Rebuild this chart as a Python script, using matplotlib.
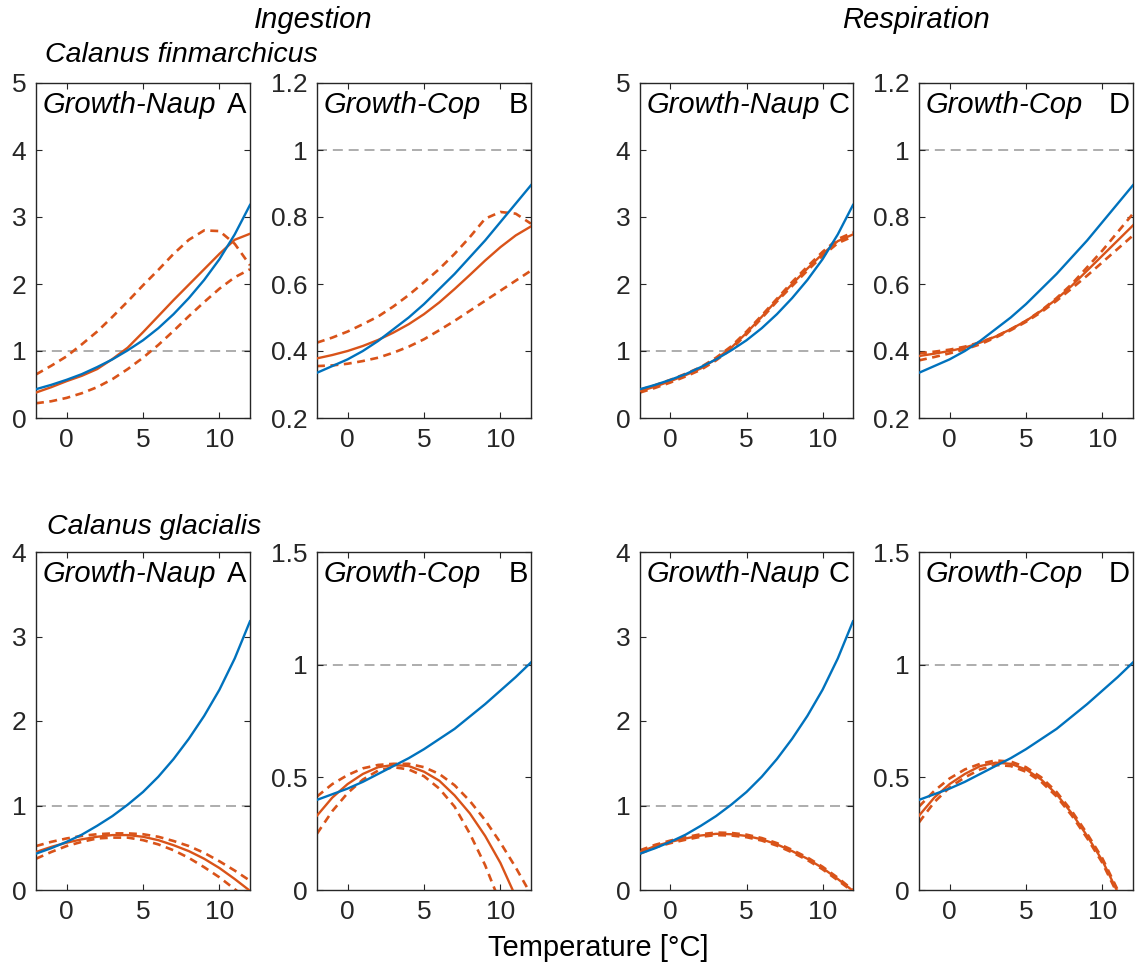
import numpy as np
from matplotlib import pyplot as plt

plt.rcParams['font.family'] = ['Liberation Sans', 'DejaVu Sans']

# ______________________________________________________________________________
# Data (temperature step of 1 degree)

temps = [-2, -1, 0, 1, 2, 3, 4, 5, 6, 7, 8, 9, 10, 11, 12]

# reference (blue) curves
naup_ref = [0.43, 0.495, 0.57, 0.655, 0.76, 0.875, 1.01, 1.16, 1.34, 1.55, 1.79, 2.06, 2.37, 2.74, 3.18]
cop_ref_fin = [0.335, 0.355, 0.375, 0.40, 0.43, 0.465, 0.50, 0.54, 0.585, 0.63, 0.68, 0.73, 0.785, 0.84, 0.895]
cop_ref_gla = [0.40, 0.425, 0.45, 0.48, 0.515, 0.55, 0.585, 0.625, 0.67, 0.715, 0.77, 0.825, 0.885, 0.945, 1.01]

# C. finmarchicus, ingestion
fin_ing_naup = [0.38, 0.46, 0.55, 0.63, 0.73, 0.88, 1.05, 1.28, 1.52, 1.76, 1.99, 2.22, 2.45, 2.66, 2.75]
fin_ing_naup_hi = [0.65, 0.78, 0.92, 1.10, 1.29, 1.51, 1.74, 1.98, 2.21, 2.45, 2.66, 2.80, 2.79, 2.60, 2.28]
fin_ing_naup_lo = [0.22, 0.25, 0.30, 0.37, 0.46, 0.58, 0.73, 0.90, 1.09, 1.30, 1.52, 1.73, 1.93, 2.10, 2.22]
fin_ing_cop = [0.378, 0.388, 0.40, 0.415, 0.433, 0.455, 0.48, 0.51, 0.545, 0.585, 0.627, 0.67, 0.71, 0.745, 0.772]
fin_ing_cop_hi = [0.425, 0.44, 0.458, 0.48, 0.503, 0.533, 0.567, 0.605, 0.645, 0.69, 0.74, 0.795, 0.815, 0.81, 0.78]
fin_ing_cop_lo = [0.355, 0.357, 0.362, 0.37, 0.38, 0.395, 0.413, 0.435, 0.462, 0.49, 0.52, 0.55, 0.58, 0.61, 0.64]

# C. finmarchicus, respiration
fin_res_naup = [0.40, 0.47, 0.55, 0.64, 0.74, 0.88, 1.05, 1.27, 1.51, 1.76, 2.00, 2.23, 2.45, 2.64, 2.74]
fin_res_naup_hi = [0.42, 0.49, 0.57, 0.66, 0.76, 0.90, 1.07, 1.29, 1.53, 1.78, 2.03, 2.26, 2.48, 2.67, 2.77]
fin_res_naup_lo = [0.38, 0.45, 0.53, 0.62, 0.72, 0.86, 1.03, 1.25, 1.49, 1.74, 1.97, 2.20, 2.42, 2.61, 2.71]
fin_res_cop = [0.385, 0.392, 0.40, 0.41, 0.425, 0.443, 0.465, 0.49, 0.52, 0.555, 0.595, 0.64, 0.685, 0.73, 0.775]
fin_res_cop_hi = [0.393, 0.398, 0.404, 0.413, 0.426, 0.443, 0.465, 0.49, 0.521, 0.558, 0.60, 0.65, 0.70, 0.755, 0.81]
fin_res_cop_lo = [0.372, 0.382, 0.393, 0.405, 0.42, 0.44, 0.462, 0.487, 0.516, 0.55, 0.587, 0.625, 0.665, 0.705, 0.745]

# C. glacialis, ingestion
gla_ing_naup = [0.45, 0.51, 0.56, 0.60, 0.63, 0.65, 0.65, 0.63, 0.59, 0.53, 0.46, 0.37, 0.26, 0.13, -0.01]
gla_ing_naup_hi = [0.52, 0.57, 0.61, 0.64, 0.66, 0.67, 0.67, 0.66, 0.63, 0.58, 0.52, 0.44, 0.34, 0.23, 0.11]
gla_ing_naup_lo = [0.37, 0.45, 0.52, 0.57, 0.61, 0.62, 0.62, 0.59, 0.54, 0.47, 0.38, 0.27, 0.15, 0.01, -0.13]
gla_ing_cop = [0.33, 0.41, 0.47, 0.515, 0.545, 0.555, 0.55, 0.525, 0.485, 0.42, 0.34, 0.24, 0.12, -0.03, -0.2]
gla_ing_cop_hi = [0.415, 0.47, 0.51, 0.54, 0.555, 0.56, 0.56, 0.545, 0.515, 0.465, 0.395, 0.31, 0.21, 0.10, -0.02]
gla_ing_cop_lo = [0.25, 0.35, 0.43, 0.49, 0.53, 0.545, 0.535, 0.505, 0.45, 0.37, 0.25, 0.11, -0.06, -0.25, -0.45]

# C. glacialis, respiration
gla_res_naup = [0.45, 0.52, 0.57, 0.61, 0.645, 0.665, 0.66, 0.64, 0.60, 0.54, 0.46, 0.37, 0.26, 0.13, -0.01]
gla_res_naup_hi = [0.47, 0.535, 0.585, 0.625, 0.66, 0.68, 0.675, 0.655, 0.615, 0.555, 0.475, 0.385, 0.275, 0.145, 0.0]
gla_res_naup_lo = [0.43, 0.505, 0.555, 0.595, 0.63, 0.65, 0.645, 0.625, 0.585, 0.525, 0.445, 0.355, 0.245, 0.115, -0.02]
gla_res_cop = [0.33, 0.41, 0.47, 0.515, 0.55, 0.565, 0.56, 0.535, 0.49, 0.425, 0.34, 0.24, 0.13, -0.01, -0.17]
gla_res_cop_hi = [0.37, 0.44, 0.495, 0.535, 0.56, 0.575, 0.57, 0.545, 0.50, 0.435, 0.35, 0.25, 0.14, 0.0, -0.16]
gla_res_cop_lo = [0.30, 0.39, 0.455, 0.50, 0.535, 0.555, 0.55, 0.525, 0.48, 0.415, 0.33, 0.23, 0.12, -0.02, -0.18]

blue = '#0072BD'
orange = '#D95319'
axis_col = '#262626'

# ______________________________________________________________________________
# Layout (pixel boxes)

W, H = 1137, 972
cols = [(36, 250), (317, 531), (640, 853), (919, 1133)]
rows = [(83, 418), (552, 890)]

panels = [
    # row, col, ref, mid, hi, lo, ylim, yticks, name, letter
    (0, 0, naup_ref, fin_ing_naup, fin_ing_naup_hi, fin_ing_naup_lo, (0, 5), [0, 1, 2, 3, 4, 5], 'Growth-Naup', 'A'),
    (0, 1, cop_ref_fin, fin_ing_cop, fin_ing_cop_hi, fin_ing_cop_lo, (0.2, 1.2), [0.2, 0.4, 0.6, 0.8, 1, 1.2], 'Growth-Cop', 'B'),
    (0, 2, naup_ref, fin_res_naup, fin_res_naup_hi, fin_res_naup_lo, (0, 5), [0, 1, 2, 3, 4, 5], 'Growth-Naup', 'C'),
    (0, 3, cop_ref_fin, fin_res_cop, fin_res_cop_hi, fin_res_cop_lo, (0.2, 1.2), [0.2, 0.4, 0.6, 0.8, 1, 1.2], 'Growth-Cop', 'D'),
    (1, 0, naup_ref, gla_ing_naup, gla_ing_naup_hi, gla_ing_naup_lo, (0, 4), [0, 1, 2, 3, 4], 'Growth-Naup', 'A'),
    (1, 1, cop_ref_gla, gla_ing_cop, gla_ing_cop_hi, gla_ing_cop_lo, (0, 1.5), [0, 0.5, 1, 1.5], 'Growth-Cop', 'B'),
    (1, 2, naup_ref, gla_res_naup, gla_res_naup_hi, gla_res_naup_lo, (0, 4), [0, 1, 2, 3, 4], 'Growth-Naup', 'C'),
    (1, 3, cop_ref_gla, gla_res_cop, gla_res_cop_hi, gla_res_cop_lo, (0, 1.5), [0, 0.5, 1, 1.5], 'Growth-Cop', 'D'),
]


def fmt(v):
    return ('%g' % v)


fig = plt.figure(figsize=(W / 100, H / 100), dpi=100)

for r, c, ref, mid, hi, lo, ylim, yticks, name, letter in panels:
    x0, x1 = cols[c]
    y0, y1 = rows[r]
    ax = fig.add_axes([x0 / W, 1 - y1 / H, (x1 - x0) / W, (y1 - y0) / H])

    ax.axhline(1, color='#a0a0a0', lw=1.2, dashes=(6, 3.5), zorder=1)
    ax.plot(temps, hi, color=orange, lw=1.9, dashes=(3.0, 2.1), zorder=2)
    ax.plot(temps, lo, color=orange, lw=1.9, dashes=(3.0, 2.1), zorder=2)
    ax.plot(temps, mid, color=orange, lw=1.7, zorder=3)
    ax.plot(temps, ref, color=blue, lw=1.7, zorder=4)

    ax.set_xlim(-2, 12)
    ax.set_ylim(*ylim)
    ax.set_xticks([0, 5, 10])
    ax.set_yticks(yticks)
    ax.set_yticklabels([fmt(v) for v in yticks])
    ax.tick_params(direction='in', length=4, width=0.8, top=True, right=True,
                   labelsize=19, colors=axis_col, pad=7)
    for sp in ax.spines.values():
        sp.set_color(axis_col)
        sp.set_linewidth(1.0)

    ax.text(0.03, 0.935, name, transform=ax.transAxes, fontsize=21, style='italic',
            ha='left', va='center', color='black')
    ax.text(0.985, 0.935, letter, transform=ax.transAxes, fontsize=21,
            ha='right', va='center', color='black')

fig.text(313 / W, 1 - 20 / H, 'Ingestion', fontsize=21, style='italic', ha='center', va='center')
fig.text(916 / W, 1 - 20 / H, 'Respiration', fontsize=21, style='italic', ha='center', va='center')
fig.text(45 / W, 1 - 55 / H, 'Calanus finmarchicus', fontsize=20.5, style='italic', ha='left', va='center')
fig.text(47 / W, 1 - 527 / H, 'Calanus glacialis', fontsize=20.5, style='italic', ha='left', va='center')
fig.text(598 / W, 1 - 948 / H, 'Temperature [°C]', fontsize=21, ha='center', va='center')

plt.savefig('out.png', dpi=100)
